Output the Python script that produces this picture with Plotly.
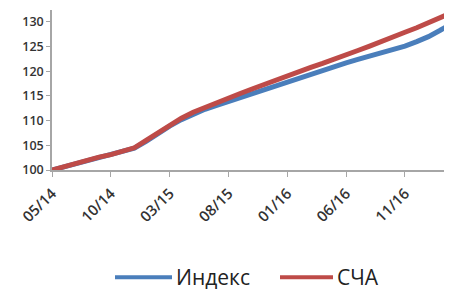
import plotly.graph_objects as go

months = ["05/14","06/14","07/14","08/14","09/14","10/14","11/14","12/14",
          "01/15","02/15","03/15","04/15","05/15","06/15","07/15","08/15",
          "09/15","10/15","11/15","12/15","01/16","02/16","03/16","04/16",
          "05/16","06/16","07/16","08/16","09/16","10/16","11/16","12/16",
          "01/17","02/17","03/17"]
index_vals = [100.0,100.6,101.3,102.0,102.5,103.0,103.6,104.4,105.8,107.4,
              108.9,110.2,111.3,112.3,113.1,113.9,114.7,115.5,116.3,117.0,
              117.7,118.5,119.3,120.1,120.9,121.7,122.4,123.1,123.7,124.3,
              125.1,126.0,127.0,128.3,129.7]
scha_vals = [100.0,100.7,101.4,102.0,102.6,103.1,103.7,104.5,106.0,107.6,
             109.1,110.5,111.7,112.7,113.7,114.6,115.5,116.4,117.3,118.3,
             119.2,120.0,120.8,121.6,122.4,123.3,124.2,125.1,126.1,127.1,
             127.9,128.8,129.8,130.9,131.9]
series_names = ["Индекс", "СЧА"]
series_colors = ["#4A7EBB", "#BE4B48"]
tick_labels = ["05/14","10/14","03/15","08/15","01/16","06/16","11/16"]
y_ticks = [100,105,110,115,120,125,130]

fig = go.Figure()
for name, vals, col in zip(series_names, [index_vals, scha_vals], series_colors):
    fig.add_trace(go.Scatter(x=months, y=vals, mode="lines", name=name,
                             line=dict(color=col, width=5)))

# manual legend (long line samples like the original)
legend_y = -0.67
legend_pos = [(0.1575, 0.30, 0.305), (0.57, 0.7025, 0.7075)]
for name, col, (x0, x1, xt) in zip(series_names, series_colors, legend_pos):
    fig.add_shape(type="line", xref="paper", yref="paper", x0=x0, x1=x1,
                  y0=legend_y, y1=legend_y, line=dict(color=col, width=4))
    fig.add_annotation(text=name, xref="paper", yref="paper", x=xt, y=legend_y,
                       xanchor="left", yanchor="middle", showarrow=False,
                       font=dict(size=21, color="#222222"))

fig.update_layout(
    width=452, height=291,
    margin=dict(l=44, r=8, t=2, b=129, autoexpand=False),
    paper_bgcolor="white", plot_bgcolor="white",
    font=dict(family="Open Sans", color="#333333"),
    showlegend=False,
)
fig.update_xaxes(type="category", categoryorder="array", categoryarray=months,
                 range=[0, 34], tickmode="array", tickvals=tick_labels,
                 ticktext=tick_labels, tickangle=-45, automargin=False,
                 tickfont=dict(size=15, color="#333333", weight=600),
                 ticklabelstandoff=2,
                 showgrid=False, showline=True, linecolor="#A6A6A6", linewidth=1.5,
                 ticks="outside", ticklen=5, tickcolor="#A6A6A6", zeroline=False)
fig.update_yaxes(range=[100, 132.4], tickmode="array", tickvals=y_ticks,
                 automargin=False, ticksuffix="\u2002\u2002",
                 tickfont=dict(size=12.5, color="#333333", weight=600),
                 showgrid=False, showline=True, linecolor="#A6A6A6", linewidth=1.5,
                 ticks="outside", ticklen=4, tickcolor="#A6A6A6", zeroline=False)

fig.write_html("out.html")
